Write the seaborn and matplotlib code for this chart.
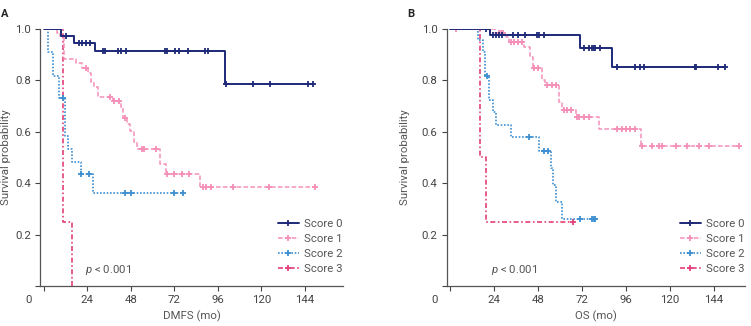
import numpy as np
import pandas as pd
import matplotlib
matplotlib.use("Agg")
import matplotlib.pyplot as plt
import seaborn as sns

# ---- data ----
# each group: step times/levels (survival after the step) + censor times + end of follow-up
labels = ["Score 0", "Score 1", "Score 2", "Score 3"]

# Panel A: DMFS
dmfs_s0_t = [0, 9.3, 16.6, 28.0, 100.0]
dmfs_s0_s = [1.0, 0.973, 0.946, 0.913, 0.785]
dmfs_s0_c = [12.2, 19.5, 21.3, 23.1, 25.3, 32.5, 34.0, 40.9, 42.7, 45.2, 66.7, 67.9,
             72.4, 74.3, 79.7, 88.8, 90.6, 100.7, 115.3, 125.0, 145.9, 148.3]
dmfs_s0_end = 148.3

dmfs_s1_t = [0, 7.0, 9.0, 11.3, 17.7, 21.0, 24.4, 26.2, 27.4, 29.8, 38.0, 42.8, 43.9,
             45.8, 47.4, 49.8, 51.6, 64.3, 67.5, 86.4]
dmfs_s1_s = [1.0, 0.985, 0.97, 0.881, 0.865, 0.846, 0.829, 0.794, 0.772, 0.735, 0.72,
             0.694, 0.651, 0.629, 0.603, 0.56, 0.532, 0.474, 0.437, 0.385]
dmfs_s1_c = [23.1, 36.3, 38.6, 41.5, 44.5, 54.0, 55.5, 62.0, 67.9, 71.6, 76.1, 80.1,
             88.0, 89.2, 92.4, 104.1, 124.1, 149.5]
dmfs_s1_end = 149.9

dmfs_s2_t = [0, 2.4, 5.0, 8.6, 11.7, 13.1, 15.8, 20.5, 27.2]
dmfs_s2_s = [1.0, 0.911, 0.818, 0.729, 0.583, 0.532, 0.482, 0.437, 0.362]
dmfs_s2_c = [10.8, 20.6, 24.8, 44.9, 48.0, 71.6, 76.6]
dmfs_s2_end = 77.1

dmfs_s3_t = [0, 10.4, 15.7]
dmfs_s3_s = [1.0, 0.25, 0.0]
dmfs_s3_c = []
dmfs_s3_end = 15.7

# Panel B: OS
os_s0_t = [0, 22.0, 71.1, 88.2]
os_s0_s = [1.0, 0.975, 0.926, 0.85]
os_s0_c = [19.3, 23.5, 25.2, 26.5, 28.3, 34.2, 36.9, 40.6, 47.4, 48.6, 51.3, 73.2,
           75.9, 77.4, 78.3, 79.2, 81.9, 91.2, 101.0, 103.8, 105.6, 133.5, 134.0,
           146.0, 150.2]
os_s0_end = 150.2

os_s1_t = [0, 24.4, 30.7, 32.1, 40.5, 43.8, 45.0, 49.9, 51.9, 59.4, 60.9, 68.7, 81.3, 104.0]
os_s1_s = [1.0, 0.982, 0.966, 0.95, 0.93, 0.889, 0.846, 0.801, 0.78, 0.716, 0.684,
           0.655, 0.612, 0.545]
os_s1_c = [3.1, 26.6, 27.6, 28.9, 33.4, 35.1, 36.9, 39.1, 45.9, 47.7, 53.1, 55.8, 57.6,
           62.1, 63.9, 66.1, 69.3, 70.2, 72.9, 75.6, 90.9, 93.6, 95.9, 98.1, 100.8,
           104.7, 110.3, 114.2, 115.5, 123.2, 129.5, 135.8, 141.2, 157.9]
os_s1_end = 159.2

os_s2_t = [0, 15.0, 17.7, 18.9, 21.3, 23.5, 25.3, 33.0, 48.7, 55.0, 56.2, 58.0, 61.2]
os_s2_s = [1.0, 0.955, 0.911, 0.818, 0.723, 0.677, 0.625, 0.58, 0.524, 0.457, 0.392,
           0.327, 0.26]
os_s2_c = [19.9, 43.3, 51.0, 53.5, 71.1, 77.4, 78.3, 79.2]
os_s2_end = 79.2

os_s3_t = [0, 16.2, 19.3]
os_s3_s = [1.0, 0.50, 0.247]
os_s3_c = [67.1]
os_s3_end = 67.1

colors = ["#1e2a78", "#f48fb8", "#3d8fd1", "#e3407c"]
styles = ["-", (0, (3, 1.5)), (0, (1, 1)), (0, (3, 1.5, 1, 1.5))]
widths = [1.4, 1.1, 1.2, 1.2]

sns.set_style("ticks")
plt.rcParams["font.family"] = ["Roboto", "DejaVu Sans"]
plt.rcParams["mathtext.fontset"] = "custom"
plt.rcParams["mathtext.rm"] = "Roboto"
plt.rcParams["mathtext.it"] = "Roboto:italic"

fig = plt.figure(figsize=(7.51, 3.26), dpi=100)
axA = fig.add_axes([40.2 / 751, 40 / 326, 302.8 / 751, 257.3 / 326])
axB = fig.add_axes([446.5 / 751, 40 / 326, 298.5 / 751, 257.3 / 326])

txt = "#555555"
fs = 8.2


def km(ax, t, s, c, end, i):
    tt = list(t) + [end]
    ss = list(s) + [s[-1]]
    d = pd.DataFrame({"time": tt, "surv": ss})
    sns.lineplot(data=d, x="time", y="surv", ax=ax, estimator=None, sort=False,
                 drawstyle="steps-post", color=colors[i], linestyle=styles[i],
                 linewidth=widths[i])
    if len(c):
        idx = np.searchsorted(t, c, side="right") - 1
        cy = np.array(s)[idx]
        ax.plot(c, cy, linestyle="none", marker="+", markersize=4.5,
                markeredgewidth=1.3, color=colors[i])
    # legend handle
    ax.plot([], [], color=colors[i], linestyle=styles[i], linewidth=widths[i],
            marker="+", markersize=4.5, markeredgewidth=1.3, label=labels[i])


panels = [
    (axA, [(dmfs_s0_t, dmfs_s0_s, dmfs_s0_c, dmfs_s0_end),
           (dmfs_s1_t, dmfs_s1_s, dmfs_s1_c, dmfs_s1_end),
           (dmfs_s2_t, dmfs_s2_s, dmfs_s2_c, dmfs_s2_end),
           (dmfs_s3_t, dmfs_s3_s, dmfs_s3_c, dmfs_s3_end)], "DMFS (mo)", "A", 165, 3),
    (axB, [(os_s0_t, os_s0_s, os_s0_c, os_s0_end),
           (os_s1_t, os_s1_s, os_s1_c, os_s1_end),
           (os_s2_t, os_s2_s, os_s2_c, os_s2_end),
           (os_s3_t, os_s3_s, os_s3_c, os_s3_end)], "OS (mo)", "B", 161, 8),
]

for ax, groups, xlabel, tag, xmax, ypad in panels:
    for i in [3, 2, 1, 0]:
        t, s, c, end = groups[i]
        km(ax, t, s, c, end, i)
    ax.set_xlim(-2, xmax)
    ax.set_ylim(0, 1.0)
    ax.spines["left"].set_bounds(0, 1.0)
    ax.spines["bottom"].set_bounds(-2, xmax)
    ax.set_xticks([0, 24, 48, 72, 96, 120, 144])
    ax.set_xticklabels(["", "24", "48", "72", "96", "120", "144"])
    ax.set_yticks([0, 0.2, 0.4, 0.6, 0.8, 1.0])
    ax.set_yticklabels(["", "0.2", "0.4", "0.6", "0.8", "1.0"])
    ax.tick_params(labelsize=fs, colors="#444444", length=3.5, width=0.8, pad=3)
    for sp in ["left", "bottom"]:
        ax.spines[sp].set_color("#555555")
        ax.spines[sp].set_linewidth(0.9)
    sns.despine(ax=ax)
    ax.set_xlabel(xlabel, fontsize=fs, color=txt, labelpad=4)
    ax.set_ylabel("Survival probability", fontsize=fs, color=txt, labelpad=ypad)
    ax.annotate("0", xy=(0, 0), xycoords="axes fraction", xytext=(-6, -10),
                textcoords="offset points", ha="right", va="center",
                fontsize=fs, color="#444444")
    ax.text(0.148, 0.062, r"$\it{p}$ < 0.001", transform=ax.transAxes,
            fontsize=fs, color=txt, va="center")
    h, l = ax.get_legend_handles_labels()
    ax.legend(h[::-1], l[::-1], loc="lower right", bbox_to_anchor=(1.0, 0.045),
              frameon=False, fontsize=fs, handlelength=1.9, handletextpad=0.45,
              labelspacing=0.45, borderaxespad=0, borderpad=0, labelcolor=txt)
    fig.text(ax.get_position().x0 - 39 / 751, 1 - 14 / 326, tag, fontsize=8,
             fontweight="bold", color="#222222", va="center", ha="left")

fig.savefig("out.png", dpi=100)
